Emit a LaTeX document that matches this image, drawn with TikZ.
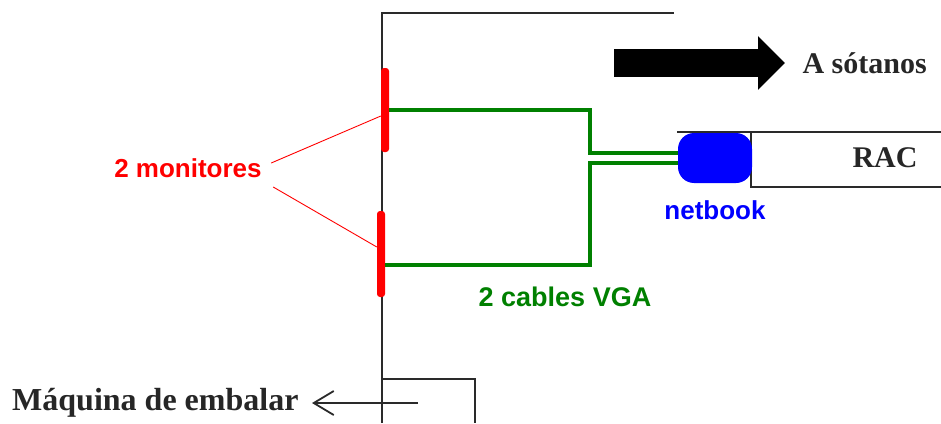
\documentclass[tikz,border=0pt]{standalone}
\usepackage{fontspec}
\setmainfont{Liberation Serif}
\setsansfont{Liberation Sans}
\usetikzlibrary{positioning, arrows.meta}
\definecolor{monred}{HTML}{FF0000}
\definecolor{cablegreen}{HTML}{008000}
\definecolor{netblue}{HTML}{0000FF}
\definecolor{wallgray}{HTML}{2A2A2A}
\tikzset{
    wall/.style={
        line width=1.8pt, color=wallgray,
    },
    monitor/.style={
        fill=monred, rounded corners=3pt,
        minimum width=8pt, inner sep=0pt,
    },
    cable/.style={
        line width=4.5pt, color=cablegreen,
    },
    leader/.style={
        line width=0.9pt, color=monred,
    },
    netbook/.style={
        fill=netblue, rounded corners=16pt,
        minimum width=74pt, minimum height=50pt,
    },
    placelabel/.style={
        font=\bfseries\fontsize{30}{32}\selectfont,
        text=black!85,
    },
    tag/.style={
        font=\sffamily\bfseries\fontsize{26}{28}\selectfont,
        text=#1,
    },
    bigarrow/.style={
        line width=28pt,
        -{Triangle[length=27pt, width=52pt]},
    },
    thinarrow/.style={
        wall,
        -{Straight Barb[length=20pt, width=24pt]},
    },
}

\begin{document}
\begin{tikzpicture}[x=1pt, y=-1pt]
\useasboundingbox (0,0) rectangle (941,423);

% =============================================
% Walls
% =============================================
\coordinate (wallbot) at (382,423);
\coordinate (walltop) at (674,13);
\draw[wall] (wallbot) |- (walltop);

% packing machine box
\draw[wall] (382,379) -- (475,379) -- (475,423);

% RAC cabinet
\draw[wall] (677,132) -- (941,132);
\draw[wall] (751,132) |- (941,187);
\node[placelabel] (rac) at (885,158) {RAC};

% =============================================
% Monitors and netbook
% =============================================
\node[monitor, minimum height=84pt] (mon1) at (385,110) {};
\node[monitor, minimum height=86pt] (mon2) at (381,254) {};

\node[netbook] (nb) at (715,158) {};
\node[tag=netblue, below=14pt of nb] (nblabel) {netbook};

\node[tag=monred] (monlabel) at (188,168) {2 monitores};
\node[tag=cablegreen, font=\sffamily\bfseries\fontsize{27}{29}\selectfont] (vgalabel) at (565,297) {2 cables VGA};

% =============================================
% VGA cables
% =============================================
\coordinate (split) at (590,158);
\draw[cable] (mon1.east) -| ([yshift=5pt]split) -- ([yshift=5pt]nb.west);
\draw[cable] ([yshift=-11pt]mon2.east) -| ([yshift=-5pt]split) -- ([yshift=-5pt]nb.west);

% leader lines
\draw[leader] ([xshift=6pt, yshift=5pt]monlabel.east) -- ([yshift=-6pt]mon1.west);
\draw[leader] ([xshift=8pt, yshift=-19pt]monlabel.east) -- ([yshift=7pt]mon2.west);

% =============================================
% Exits
% =============================================
\coordinate (tailA) at (614,63);
\coordinate (tipA) at (785,63);
\draw[bigarrow] (tailA) -- (tipA);
\node[placelabel, right=14pt of tipA] (sotanos) {A sótanos};

\coordinate (tailB) at (418,403);
\coordinate (tipB) at (312,403);
\draw[thinarrow] (tailB) -- (tipB);
\node[placelabel, font=\bfseries\fontsize{32}{34}\selectfont, left=10pt of tipB] (maquina) {Máquina de embalar};

\end{tikzpicture}
\end{document}
